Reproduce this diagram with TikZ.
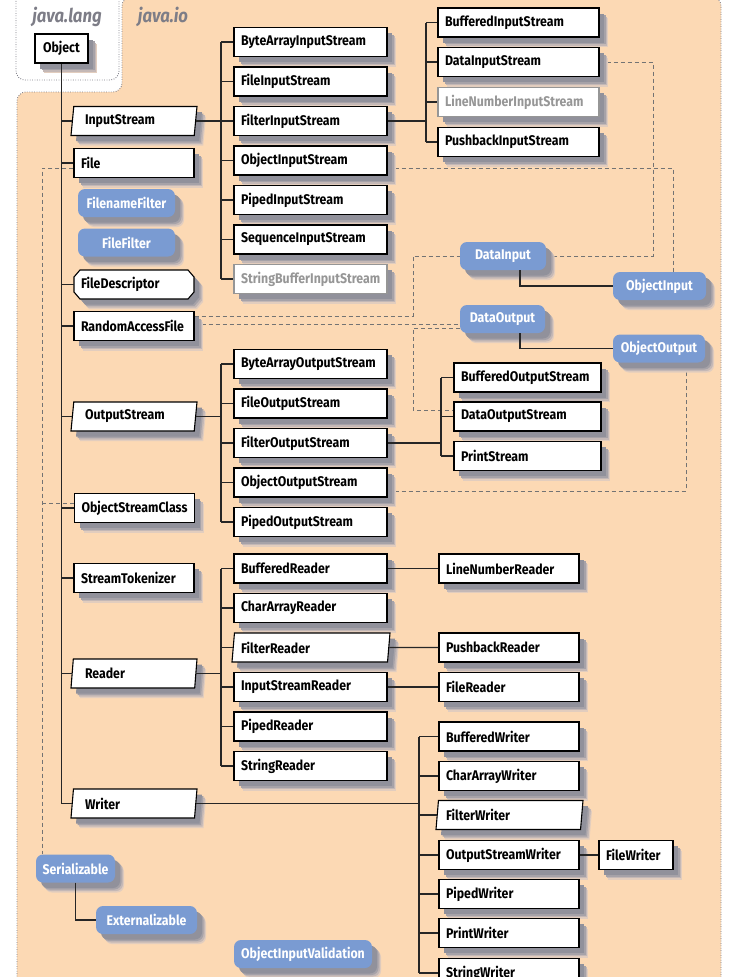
\documentclass[tikz,border=0pt]{standalone}
\usepackage{fontspec}
\setmainfont{Fira Sans}[FakeStretch=0.88]
\usetikzlibrary{shapes.geometric,shadows}
\pgfdeclarelayer{bglayer}
\pgfdeclarelayer{dashes}
\pgfdeclarelayer{wires}
\pgfsetlayers{bglayer,dashes,main,wires}

\definecolor{peach}{RGB}{252,217,180}
\definecolor{ifblue}{RGB}{122,155,210}
\definecolor{pkggray}{RGB}{125,125,135}
\definecolor{oldgray}{RGB}{150,150,150}
\definecolor{linegray}{RGB}{115,115,115}
\definecolor{shadeA}{RGB}{226,205,190}
\definecolor{shadeB}{RGB}{196,184,182}
\definecolor{shadeC}{RGB}{166,162,168}
\definecolor{shadeD}{RGB}{145,145,155}

\tikzset{
  % soft offset shadow built from a few stacked copies, outermost first
  boxshadow/.style={
    general shadow={shadow xshift=9pt,shadow yshift=-10pt,fill=shadeA},
    general shadow={shadow xshift=8pt,shadow yshift=-8.5pt,fill=shadeB},
    general shadow={shadow xshift=6.5pt,shadow yshift=-7pt,fill=shadeC},
    general shadow={shadow xshift=5pt,shadow yshift=-5.5pt,fill=shadeD}},
  lbl/.style={font=\bfseries\fontsize{14}{15}\selectfont},
  cls/.style={lbl, draw=black, line width=1.1pt, fill=white, boxshadow,
    text width=#1, align=left, inner xsep=7pt, inner ysep=0pt, minimum height=29pt},
  oldcls/.style={cls=#1, draw=oldgray, text=oldgray},
  abscls/.style 2 args={lbl, draw=black, line width=1.1pt, fill=white, boxshadow,
    shape=trapezium, trapezium left angle=78, trapezium right angle=102,
    trapezium stretches body, minimum height=29pt, minimum width=#1,
    text width=#2, align=left, inner xsep=4pt, inner ysep=0pt},
  ifc/.style={lbl, fill=ifblue, text=white, rounded corners=7pt, boxshadow,
    minimum width=#1, minimum height=28pt, inner sep=0pt, align=center},
  octo/.style={draw=black, line width=1.1pt, fill=white, boxshadow},
  pkgframe/.style={draw=pkggray, line width=0.9pt, dash pattern=on 0.8pt off 1.6pt},
  pkglabel/.style={font=\bfseries\itshape\fontsize{19}{20}\selectfont, text=pkggray},
  wire/.style={draw=black!85, line width=1.2pt},
  ifdash/.style={draw=linegray, line width=0.9pt, dash pattern=on 4pt off 3pt},
}

\begin{document}
\begin{tikzpicture}[x=1pt,y=-1pt]
\useasboundingbox (0,0) rectangle (733,977);

% package frames
\begin{pgfonlayer}{bglayer}
  \fill[white] (0,0) rectangle (733,977);
  \draw[pkgframe, fill=peach, rounded corners=9pt]
    (17,1010) -- (17,92) -- (122,92) -- (122,-3) -- (721,-3) -- (721,1010);
  \draw[pkgframe, fill=white, rounded corners=9pt] (16,-20) rectangle (119,80);
  \node[pkglabel] (langlbl) at (67,17) {java.lang};
  \node[pkglabel] (iolbl) at (163,17) {java.io};
\end{pgfonlayer}

% java.lang
\node[cls=39pt, align=center] (object) at (61.5,48.5) {Object};

% first level of java.io
\node[abscls={126pt}{98pt}] (instream) at (134,121) {InputStream};
\node[cls=106pt] (file) at (134,163) {File};
\node[ifc=97pt] (fnfilter) at (126.5,203) {FilenameFilter};
\node[ifc=97pt] (ffilter) at (126.5,242.5) {FileFilter};
% FileDescriptor: octagonal outline with the label on top
\path[octo] (80,270) -- (188,270) -- (194,277) -- (194,292) -- (188,299)
  -- (80,299) -- (74,292) -- (74,277) -- cycle;
\node[lbl, text width=106pt, align=left, inner xsep=7pt, inner ysep=0pt,
      minimum height=29pt] (fdesc) at (134,284.5) {FileDescriptor};
\node[cls=106pt] (raf) at (134,326) {RandomAccessFile};
\node[abscls={126pt}{98pt}] (outstream) at (134,416.5) {OutputStream};
\node[cls=106pt] (osc) at (134.5,508) {ObjectStreamClass};
\node[cls=106pt] (stok) at (134,578) {StreamTokenizer};
\node[abscls={126pt}{98pt}] (reader) at (134,673.5) {Reader};
\node[abscls={126pt}{98pt}] (writer) at (134,803.5) {Writer};

% input streams
\node[cls=139pt] (bais) at (310.5,42) {ByteArrayInputStream};
\node[cls=139pt] (fis) at (310.5,81.5) {FileInputStream};
\node[cls=139pt] (filis) at (310.5,121) {FilterInputStream};
\node[cls=139pt] (ois) at (310.5,160.5) {ObjectInputStream};
\node[cls=139pt] (pis) at (310.5,200) {PipedInputStream};
\node[cls=139pt] (sis) at (310.5,239.5) {SequenceInputStream};
\node[oldcls=139pt] (sbis) at (310.5,279) {StringBufferInputStream};

\node[cls=147pt] (bis) at (518.5,22.5) {BufferedInputStream};
\node[cls=147pt] (dis) at (518.5,62) {DataInputStream};
\node[oldcls=147pt] (lnis) at (518.5,102) {LineNumberInputStream};
\node[cls=147pt] (pbis) at (518.5,142) {PushbackInputStream};

% output streams
\node[cls=139pt] (baos) at (310.5,364) {ByteArrayOutputStream};
\node[cls=139pt] (fos) at (310.5,403.5) {FileOutputStream};
\node[cls=139pt] (filos) at (310.5,443) {FilterOutputStream};
\node[cls=139pt] (oos) at (310.5,482.5) {ObjectOutputStream};
\node[cls=139pt] (pos) at (310.5,522) {PipedOutputStream};

\node[cls=133pt] (bos) at (527.5,377.5) {BufferedOutputStream};
\node[cls=133pt] (dos) at (527.5,416.5) {DataOutputStream};
\node[cls=133pt] (ps) at (527.5,456) {PrintStream};

% interfaces
\node[ifc=86pt] (din) at (503,256) {DataInput};
\node[ifc=93pt] (oin) at (659.5,286) {ObjectInput};
\node[ifc=85pt] (dout) at (502.5,319) {DataOutput};
\node[ifc=92pt] (oout) at (659,348.5) {ObjectOutput};
\node[ifc=79pt] (ser) at (75.5,868.5) {Serializable};
\node[ifc=101pt] (ext) at (146.5,920) {Externalizable};
\node[ifc=138pt] (oiv) at (303,954) {ObjectInputValidation};

% readers
\node[cls=139pt] (br) at (310.5,568.5) {BufferedReader};
\node[cls=139pt] (car) at (310.5,608) {CharArrayReader};
\node[abscls={158pt}{140pt}] (fr) at (311,647.5) {FilterReader};
\node[cls=139pt] (isr) at (310.5,687) {InputStreamReader};
\node[cls=139pt] (pr) at (310.5,726.5) {PipedReader};
\node[cls=139pt] (sr) at (310.5,766) {StringReader};

\node[cls=126pt] (lnr) at (509,568.5) {LineNumberReader};
\node[cls=126pt] (pbr) at (509,647.5) {PushbackReader};
\node[cls=126pt] (filer) at (509,687) {FileReader};

% writers
\node[cls=126pt] (bw) at (509,736.5) {BufferedWriter};
\node[cls=126pt] (caw) at (509,776) {CharArrayWriter};
\node[abscls={147pt}{127pt}] (fw) at (509.5,815) {FilterWriter};
\node[cls=126pt] (osw) at (509,855) {OutputStreamWriter};
\node[cls=126pt] (pw) at (509,894) {PipedWriter};
\node[cls=126pt] (prw) at (509,933) {PrintWriter};
\node[cls=126pt] (sw) at (509,973) {StringWriter};
\node[cls=60pt] (filew) at (636,855) {FileWriter};

% bus positions
\coordinate (isx) at (221,0);
\coordinate (fisx) at (426,0);
\coordinate (fosx) at (441,0);
\coordinate (wx) at (419,0);
\coordinate (serx) at (42,0);
\coordinate (dbus) at (413,0);
\coordinate (dibus) at (653,0);
\coordinate (oibus) at (673,0);
\coordinate (oobus) at (686,0);
\coordinate (dix) at (520,0);

% solid inheritance lines lie over the shadows
\begin{pgfonlayer}{wires}
  % inheritance from Object
  \draw[wire] (object.south) -- (object.south |- writer.west);
  \foreach \n in {instream,file,fdesc,raf,outstream,osc,stok,reader,writer}
    \draw[wire] (object.south |- \n.west) -- (\n.west);

  % InputStream family
  \draw[wire] (instream.east) -- (instream.east -| isx);
  \draw[wire] (bais.west -| isx) -- (sbis.west -| isx);
  \foreach \n in {bais,fis,filis,ois,pis,sis,sbis}
    \draw[wire] (\n.west -| isx) -- (\n.west);
  \draw[wire] (filis.east) -- (filis.east -| fisx);
  \draw[wire] (bis.west -| fisx) -- (pbis.west -| fisx);
  \foreach \n in {bis,dis,lnis,pbis}
    \draw[wire] (\n.west -| fisx) -- (\n.west);

  % OutputStream family
  \draw[wire] (outstream.east) -- (outstream.east -| isx);
  \draw[wire] (baos.west -| isx) -- (pos.west -| isx);
  \foreach \n in {baos,fos,filos,oos,pos}
    \draw[wire] (\n.west -| isx) -- (\n.west);
  \draw[wire] (filos.east) -- (filos.east -| fosx);
  \draw[wire] (bos.west -| fosx) -- (ps.west -| fosx);
  \foreach \n in {bos,dos,ps}
    \draw[wire] (\n.west -| fosx) -- (\n.west);

  % Reader family
  \draw[wire] (reader.east) -- (reader.east -| isx);
  \draw[wire] (br.west -| isx) -- (sr.west -| isx);
  \foreach \n in {br,car,fr,isr,pr,sr}
    \draw[wire] (\n.west -| isx) -- (\n.west);
  \draw[wire] (br.east) -- (lnr.west);
  \draw[wire] (fr.east) -- (pbr.west);
  \draw[wire] (isr.east) -- (filer.west);

  % Writer family
  \draw[wire] (writer.east) -- (writer.east -| wx);
  \draw[wire] (bw.west -| wx) -- (sw.west -| wx);
  \foreach \n in {bw,caw,fw,osw,pw,prw,sw}
    \draw[wire] (\n.west -| wx) -- (\n.west);
  \draw[wire] (osw.east) -- (filew.west);

  % interface inheritance
  \draw[wire] (dix |- din.south) |- (oin.west);
  \draw[wire] (dix |- dout.south) |- (oout.west);
  \draw[wire] (ser.south) |- (ext.west);
\end{pgfonlayer}

% dashed implementation lines run beneath the boxes
\begin{pgfonlayer}{dashes}
  \coordinate (filetap) at ([yshift=-5pt]file.west);
  \coordinate (osctap) at ([yshift=5pt]osc.west);
  \draw[ifdash] (filetap) -| (serx |- ser.north);
  \draw[ifdash] (osctap -| serx) -- (osctap);

  \coordinate (rafhi) at ([yshift=10pt]raf.east);
  \coordinate (raflo) at ([yshift=2pt]raf.east);
  \draw[ifdash] (rafhi) -| (dbus |- din.west) -- (din.west);
  \draw[ifdash] (raflo) -- (raflo -| dout.west);

  \coordinate (douttap) at ([yshift=-9pt]dout.west);
  \coordinate (dostap) at ([yshift=6.5pt]dos.west);
  \draw[ifdash] (douttap) -- (douttap -| dbus) |- (dostap);

  \draw[ifdash] (dis.east) -| (dibus |- din.east) -- (din.east);

  \coordinate (oistap) at ([yshift=-7.5pt]ois.east);
  \draw[ifdash] (oistap) -| (oibus |- oin.north);

  \coordinate (oostap) at ([yshift=-8.5pt]oos.east);
  \draw[ifdash] (oostap) -| (oobus |- oout.south);
\end{pgfonlayer}
\end{tikzpicture}
\end{document}
